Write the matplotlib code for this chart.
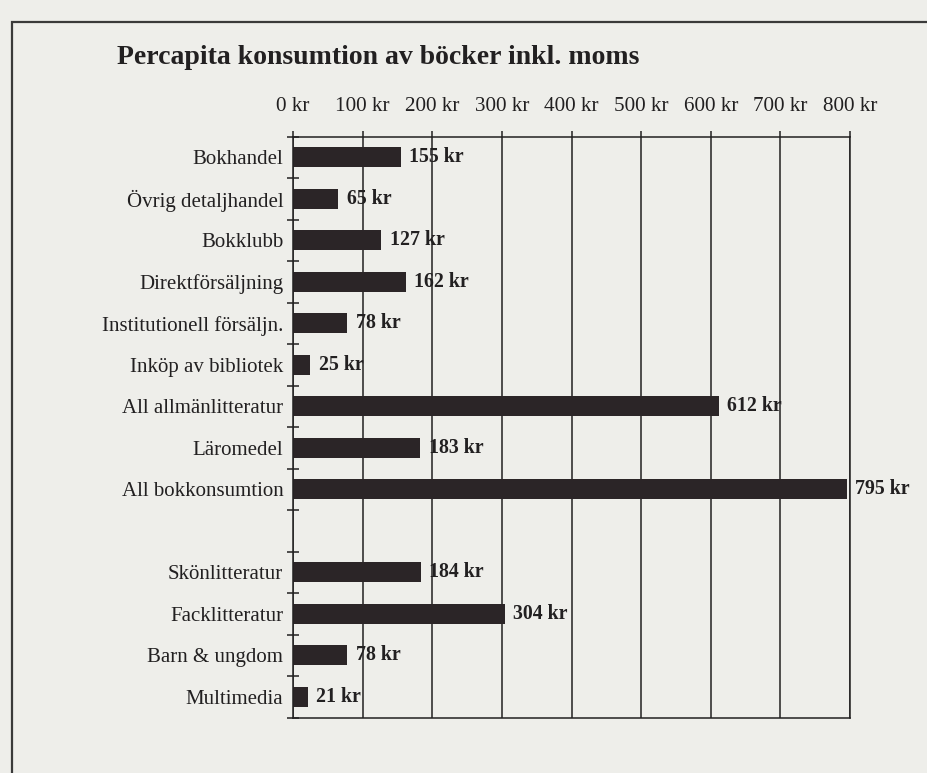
import numpy as np
import matplotlib
matplotlib.use("Agg")
from matplotlib import pyplot as plt
from matplotlib.patches import Rectangle

# ── data (kr per capita, incl. VAT) ─────────────────────────────────
channels = ["Bokhandel", "Övrig detaljhandel", "Bokklubb", "Direktförsäljning",
            "Institutionell försäljn.", "Inköp av bibliotek",
            "All allmänlitteratur", "Läromedel", "All bokkonsumtion"]
channel_values = [155, 65, 127, 162, 78, 25, 612, 183, 795]

genres = ["Skönlitteratur", "Facklitteratur", "Barn & ungdom", "Multimedia"]
genre_values = [184, 304, 78, 21]

x_ticks = [0, 100, 200, 300, 400, 500, 600, 700, 800]

title = "Percapita konsumtion av böcker inkl. moms"

# ── style ───────────────────────────────────────────────────────────
bg = "#eeeeea"
ink = "#222021"
bar_c = "#2b2527"
plt.rcParams["font.family"] = ["Liberation Serif", "DejaVu Serif"]

W, H = 928, 773
fig = plt.figure(figsize=(W / 100, H / 100), dpi=100, facecolor=bg)
ax = fig.add_axes([293 / W, 1 - 717.5 / H, (850 - 293) / W, (717.5 - 136.5) / H])
ax.set_facecolor(bg)

# one empty slot between the two groups
labels = channels + [""] + genres
values = channel_values + [np.nan] + genre_values
pos = np.arange(len(labels))

ax.barh(pos, values, height=0.47, color=bar_c, zorder=2)
for p, v in zip(pos, values):
    if np.isnan(v):
        continue
    ax.text(v + 12, p, f"{v} kr", va="center", ha="left", fontsize=14.3,
            fontweight="bold", color=ink, zorder=1)

ax.set_xlim(0, 800)
ax.set_ylim(len(labels) - 0.5, -0.5)

# x axis on top
ax.xaxis.tick_top()
ax.set_xticks(x_ticks)
ax.set_xticklabels([f"{t} kr" for t in x_ticks])
ax.tick_params(axis="x", direction="out", length=4.5, width=1.1, color=ink,
               labelsize=15.2, labelcolor=ink, pad=10.5)
ax.grid(axis="x", color=ink, lw=1.1, zorder=3)

# y: labels at slot centres, crossing ticks at slot boundaries
ax.set_yticks(pos)
ax.set_yticklabels(labels)
ax.set_yticks(np.arange(len(labels) + 1) - 0.5, minor=True)
ax.tick_params(axis="y", which="major", length=0, labelsize=15,
               labelcolor=ink, pad=7)
ax.tick_params(axis="y", which="minor", direction="inout", length=8, width=1.1,
               color=ink)

for s in ax.spines.values():
    s.set_color(ink)
    s.set_linewidth(1.1)

fig.text(117 / W, 1 - 64 / H, title, fontsize=20, fontweight="bold",
         color=ink, ha="left", va="baseline")

# scanned page frame
fig.add_artist(Rectangle((12 / W, -0.05), 1.1, 1.05 - 22 / H,
                         transform=fig.transFigure, fill=False,
                         lw=1.6, edgecolor="#3a3a3a", clip_on=False))

fig.savefig("out.png", dpi=100, facecolor=bg)
